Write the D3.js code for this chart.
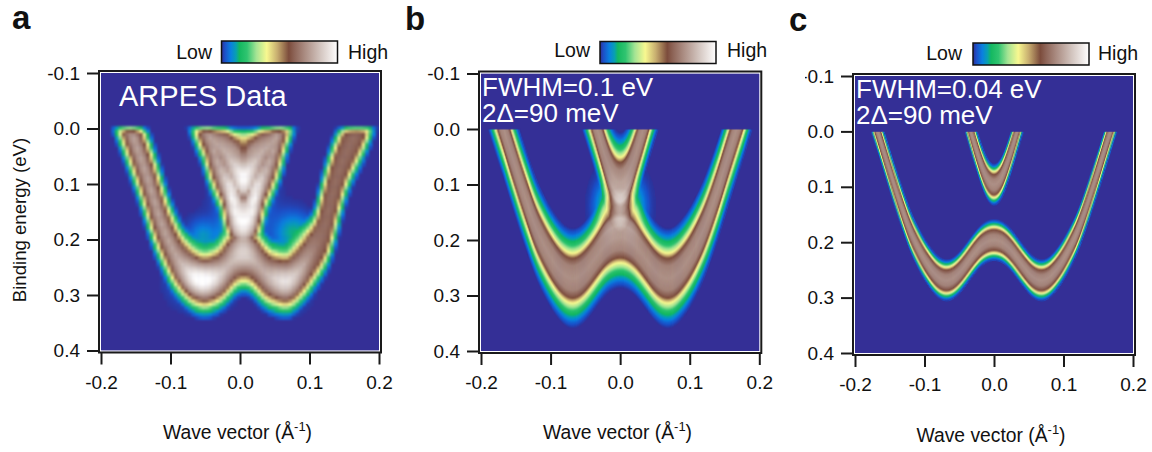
<!DOCTYPE html>
<html>
<head>
<meta charset="utf-8">
<script src="https://cdn.jsdelivr.net/npm/d3@7"></script>
<style>
  html, body { margin: 0; padding: 0; background: #fff; }
  svg { display: block; }
  text { font-family: "Liberation Sans", Arial, sans-serif; fill: #111; }
</style>
</head>
<body>
<svg width="1152" height="452"></svg>
<script>
const kTicks = [-0.2, -0.1, 0.0, 0.1, 0.2];
const energyTicks = [-0.1, 0.0, 0.1, 0.2, 0.3, 0.4];

// colour bar, position along the bar -> colour
const colorPos = [0, 0.03, 0.08, 0.125, 0.155, 0.22, 0.3, 0.39, 0.48, 0.58, 0.63, 0.72, 0.85, 1];
const colorVal = ["#2f3095", "#1c50c8", "#0a80e0", "#08a0b0", "#14b860", "#30c470", "#a4e494", "#f8f890",
  "#c8ae70", "#7c4c3c", "#8e6558", "#ab8d83", "#d2c4be", "#ffffff"];

// simulated bands, binding energy (eV) read along wave vector
const simK = [-0.2, -0.19, -0.18, -0.17, -0.16, -0.15, -0.14, -0.13, -0.12, -0.11, -0.1, -0.09, -0.08, -0.07, -0.06, -0.05, -0.04, -0.03, -0.02, -0.01,
  0, 0.01, 0.02, 0.03, 0.04, 0.05, 0.06, 0.07, 0.08, 0.09, 0.1, 0.11, 0.12, 0.13, 0.14, 0.15, 0.16, 0.17, 0.18, 0.19, 0.2];
const simLower = [-0.13, -0.09, -0.05, -0.01, 0.03, 0.07, 0.11, 0.148, 0.182, 0.208, 0.232, 0.25, 0.264, 0.27, 0.267, 0.256, 0.24, 0.222, 0.207, 0.198,
  0.195, 0.198, 0.207, 0.222, 0.24, 0.256, 0.267, 0.27, 0.264, 0.25, 0.232, 0.208, 0.182, 0.148, 0.11, 0.07, 0.03, -0.01, -0.05, -0.09, -0.13];
const simUpper = [-0.6, -0.56, -0.52, -0.48, -0.44, -0.4, -0.36, -0.32, -0.28, -0.25, -0.22, -0.19, -0.16, -0.14, -0.11, -0.07, -0.03, 0.015, 0.055, 0.088,
  0.1, 0.088, 0.055, 0.015, -0.03, -0.07, -0.11, -0.14, -0.16, -0.19, -0.22, -0.25, -0.28, -0.32, -0.36, -0.4, -0.44, -0.48, -0.52, -0.56, -0.6];

// line shape, distance from band (eV) -> colour bar position
const shapeB = { d: [0, 0.022, 0.035, 0.045, 0.06, 0.08, 0.09], v: [0.73, 0.7, 0.59, 0.39, 0.2, 0.05, 0] };
const shapeC = { d: [0, 0.01, 0.018, 0.024, 0.029, 0.034, 0.038], v: [0.73, 0.7, 0.59, 0.37, 0.17, 0.05, 0] };
const shapeA = { d: [0, 0.014, 0.03, 0.042, 0.052, 0.065, 0.072], v: [0.78, 0.72, 0.59, 0.39, 0.2, 0.05, 0] };

// ARPES bands
const dataK = [-0.21, -0.19, -0.17, -0.158, -0.145, -0.13, -0.12, -0.108, -0.09, -0.07, -0.053, -0.03, -0.01, 0.005, 0.02, 0.04, 0.068, 0.09, 0.11, 0.121, 0.135, 0.15, 0.17, 0.185, 0.21];
const dataLower = [-0.18, -0.11, -0.04, 0, 0.045, 0.1, 0.145, 0.19, 0.235, 0.264, 0.278, 0.265, 0.238, 0.228, 0.238, 0.265, 0.278, 0.25, 0.215, 0.19, 0.1, 0.05, 0, -0.05, -0.14];
const dataTopK = [-0.09, -0.07, -0.046, -0.036, -0.025, -0.012, 0.005, 0.022, 0.036, 0.048, 0.072, 0.09];
const dataTop = [-0.12, -0.07, 0.01, 0.028, 0.035, 0.06, 0.085, 0.06, 0.035, 0.028, -0.07, -0.12];
const dataStemK = [-0.09, -0.06, -0.044, -0.034, -0.022, -0.014, -0.008, 0.005, 0.018, 0.024, 0.032, 0.044, 0.054, 0.07, 0.09];
const dataStem = [-0.15, -0.05, 0.008, 0.058, 0.09, 0.11, 0.16, 0.17, 0.16, 0.11, 0.09, 0.058, 0.008, -0.05, -0.15];
// the right arm of the measured map stays darker
const dimK = [0.09, 0.115, 0.2];
const dimV = [1, 0.3, 0.3];
// Fermi cut-off of the measured signal
const fermiE = [-0.006, 0, 0.006, 0.012];
const fermiV = [0, 0.45, 0.85, 1];
// bright and faint patches in the measured map
const spotK = [0.005, 0.005, -0.055, 0.065, -0.053, 0.072, -0.02, 0.09, 0.005];
const spotE = [0.115, 0.2, 0.272, 0.278, 0.195, 0.19, 0.19, 0.18, 0.02];
const spotAmp = [0.3, 0.18, 0.26, 0.16, 0.11, 0.12, 0.06, 0.05, 0.3];
const spotKw = [0.02, 0.015, 0.022, 0.018, 0.014, 0.016, 0.01, 0.014, 0.012];
const spotEw = [0.04, 0.03, 0.025, 0.025, 0.02, 0.025, 0.02, 0.016, 0.015];
// glow beside the stem of the wide simulation
const stemK = [-0.018, 0.018];
const stemE = [0.14, 0.14];

const svg = d3.select("svg");
const defs = svg.append("defs");

const color = d3.scaleLinear().domain(colorPos).range(colorVal).clamp(true);
const bgColor = "#342f96";

const grad = defs.append("linearGradient").attr("id", "bar");
colorPos.forEach((p, i) => grad.append("stop").attr("offset", p).attr("stop-color", colorVal[i]));

defs.append("clipPath").attr("id", "cutMinus").append("rect")
  .attr("x", -48).attr("y", -20).attr("width", 48).attr("height", 40);

// piecewise reading, resampled and run through a basis curve so the bands have no corners
function bandFn(ks, es, step) {
  const piece = d3.scaleLinear().domain(ks).range(es);
  const grid = d3.range(-0.25, 0.2501, step);
  const curve = d3.interpolateBasis(grid.map(piece));
  const pos = d3.scaleLinear().domain([-0.25, 0.25]).range([0, 1]);
  return k => curve(pos(k));
}
function shapeFn(s) {
  return d3.scaleLinear().domain(s.d).range(s.v).clamp(true);
}

const simBands = [bandFn(simK, simLower, 0.01), bandFn(simK, simUpper, 0.01)];
const dataBands = [bandFn(dataK, dataLower, 0.01), bandFn(dataTopK, dataTop, 0.005), bandFn(dataStemK, dataStem, 0.005)];
const fermi = d3.scaleLinear().domain(fermiE).range(fermiV).clamp(true);
const dim = d3.scaleLinear().domain(dimK).range(dimV).clamp(true);

function simValue(shape, glow) {
  const f = shapeFn(shape);
  return (k, e) => {
    if (e < 0) return 0;
    let v = d3.sum(simBands, b => f(Math.abs(e - b(k))));
    if (glow) {
      stemK.forEach((sk, i) => {
        const a = (k - sk) / 0.012, b = (e - stemE[i]) / 0.03;
        v += 0.2 * Math.exp(-0.5 * (a * a + b * b));
      });
    }
    return v;
  };
}
function dataValue() {
  const f = shapeFn(shapeA);
  // measured peaks are broad along k too, so take distance to the curve in both directions
  const steps = d3.range(-0.03, 0.0301, 0.003);
  const kScale = 3.5;
  return (k, e) => {
    if (e < -0.006) return 0;
    let v = d3.max(dataBands, b => {
      const dist = d3.min(steps, s => Math.hypot(e - b(k + s), kScale * s));
      return f(dist);
    });
    if (v > 0.6) v = 0.6 + (v - 0.6) * dim(k);
    spotK.forEach((sk, i) => {
      const a = (k - sk) / spotKw[i], b = (e - spotE[i]) / spotEw[i];
      v += spotAmp[i] * Math.exp(-0.5 * (a * a + b * b));
    });
    return v * fermi(e);
  };
}

const panels = [
  { letter: "a", lx: 12, ly: 29, left: 101, right: 379, top: 73, bottom: 350.5, barX: 221.5, barY: 41, barW: 116, barH: 22, lowX: 212, highX: 348, labelY: 58.5,
    value: dataValue(), dk: 0.005, de: 0.006, blur: 0.8, note: ["ARPES Data"], noteX: 119, noteY: [106], noteSize: 29, yTitle: true, titleY: 439, titleX: 237.5 },
  { letter: "b", lx: 405, ly: 30, left: 481, right: 759.3, top: 73.5, bottom: 351, barX: 600, barY: 41.5, barW: 116, barH: 22, lowX: 590, highX: 727, labelY: 57,
    value: simValue(shapeB, true), dk: 0.0015, de: 0.0018, blur: 0, note: ["FWHM=0.1 eV", "2Δ=90 meV"], noteX: 482, noteY: [96, 122], noteSize: 26, titleY: 439, titleX: 617.5 },
  { letter: "c", lx: 789, ly: 31, left: 855, right: 1133, top: 76, bottom: 353, barX: 973, barY: 43, barW: 116, barH: 22, lowX: 962, highX: 1098, labelY: 59.5,
    value: simValue(shapeC, false), dk: 0.0015, de: 0.0018, blur: 0, note: ["FWHM=0.04 eV", "2Δ=90 meV"], noteX: 856, noteY: [97.5, 123.5], noteSize: 26, titleY: 442, titleX: 991, cutMinus: true }
];

panels.forEach(p => {
  const x = d3.scaleLinear().domain([-0.2, 0.2]).range([p.left, p.right]);
  const y = d3.scaleLinear().domain([-0.1, 0.4]).range([p.top, p.bottom]);

  // heat map, painted cell by cell through the scales
  const w = p.right - p.left, h = p.bottom - p.top;
  const canvas = document.createElement("canvas");
  canvas.width = Math.ceil(w);
  canvas.height = Math.ceil(h);
  const ctx = canvas.getContext("2d");
  ctx.fillStyle = bgColor;
  ctx.fillRect(0, 0, canvas.width, canvas.height);
  d3.range(-0.2, 0.2, p.dk).forEach(k => {
    d3.range(-0.1, 0.4, p.de).forEach(e => {
      const v = p.value(k + p.dk / 2, e + p.de / 2);
      if (v <= 0.005) return;
      ctx.fillStyle = color(v);
      ctx.fillRect(x(k) - p.left, y(e) - p.top, x(k + p.dk) - x(k) + 0.5, y(e + p.de) - y(e) + 0.5);
    });
  });

  const g = svg.append("g");
  g.append("rect")
    .attr("x", p.left).attr("y", p.top)
    .attr("width", w).attr("height", h)
    .attr("fill", bgColor);
  g.append("image")
    .attr("x", p.left).attr("y", p.top)
    .attr("width", canvas.width).attr("height", canvas.height)
    .style("filter", p.blur ? `blur(${p.blur}px)` : null)
    .attr("href", canvas.toDataURL());

  // frame
  g.append("rect")
    .attr("x", p.left - 0.5).attr("y", p.top - 0.5)
    .attr("width", w + 1).attr("height", h + 1)
    .attr("fill", "none").attr("stroke", "#fff").attr("stroke-width", 1);
  g.append("rect")
    .attr("x", p.left - 2).attr("y", p.top - 2)
    .attr("width", w + 4).attr("height", h + 4)
    .attr("fill", "none").attr("stroke", "#1a1a1a").attr("stroke-width", 2);

  const fmt = d => d3.format(".1f")(d).replace("−", "-");
  const yAxis = g.append("g")
    .attr("transform", `translate(${p.left - 2},0)`)
    .call(d3.axisLeft(y).tickValues(energyTicks).tickFormat(fmt).tickSize(12).tickPadding(7));
  const xAxis = g.append("g")
    .attr("transform", `translate(0,${p.bottom + 2})`)
    .call(d3.axisBottom(x).tickValues(kTicks).tickFormat(fmt).tickSize(12).tickPadding(11));
  [xAxis, yAxis].forEach(a => {
    a.select(".domain").remove();
    a.selectAll("line").attr("stroke", "#1a1a1a").attr("stroke-width", 2);
    a.selectAll("text").style("font-size", "19px").attr("fill", "#111");
  });
  // the top label of panel c runs into the page crop in the original
  if (p.cutMinus) yAxis.selectAll("text").filter(d => d < 0).attr("clip-path", "url(#cutMinus)");

  // x title
  const xt = g.append("text")
    .attr("x", p.titleX).attr("y", p.titleY)
    .attr("text-anchor", "middle").style("font-size", "19.3px");
  xt.append("tspan").text("Wave vector (Å");
  xt.append("tspan").attr("dy", -8).style("font-size", "13px").text("-1");
  xt.append("tspan").attr("dy", 8).text(")");

  if (p.yTitle) {
    g.append("text")
      .attr("transform", "translate(26,220) rotate(-90)")
      .attr("text-anchor", "middle").style("font-size", "18.6px")
      .text("Binding energy (eV)");
  }

  // panel letter
  g.append("text").attr("x", p.lx).attr("y", p.ly)
    .style("font-size", "33px").style("font-weight", "bold").text(p.letter);

  // colour bar
  g.append("rect")
    .attr("x", p.barX).attr("y", p.barY)
    .attr("width", p.barW).attr("height", p.barH)
    .attr("fill", "url(#bar)").attr("stroke", "#111").attr("stroke-width", 1.5);
  g.append("text").attr("x", p.lowX).attr("y", p.labelY)
    .attr("text-anchor", "end").style("font-size", "19.5px").text("Low");
  g.append("text").attr("x", p.highX).attr("y", p.labelY)
    .style("font-size", "19.5px").text("High");

  // note inside the map
  p.note.forEach((t, i) => {
    g.append("text").attr("x", p.noteX).attr("y", p.noteY[i])
      .style("font-size", p.noteSize + "px").style("fill", "#fff").text(t);
  });
});
</script>
</body>
</html>
